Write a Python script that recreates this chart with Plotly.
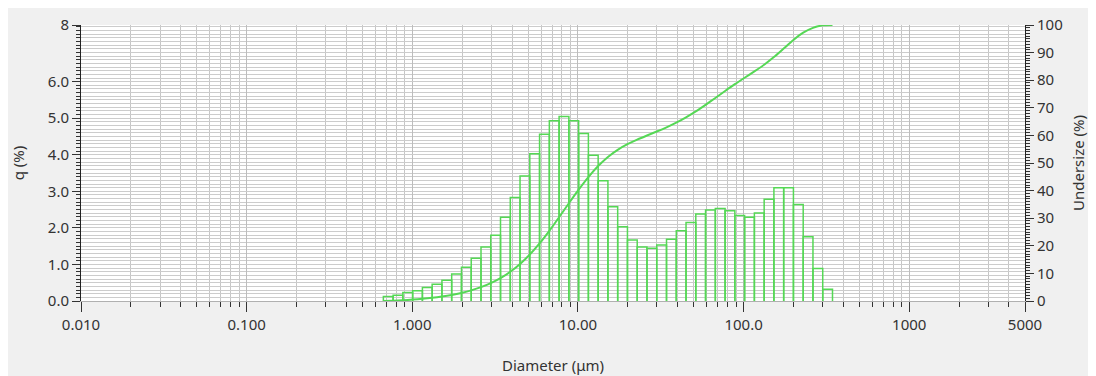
import math
import plotly.graph_objects as go

# ---- data ----
edges_um = [0.669, 0.766, 0.877, 1.005, 1.151, 1.318, 1.510, 1.729, 1.981, 2.269,
            2.599, 2.976, 3.409, 3.905, 4.472, 5.122, 5.867, 6.720, 7.697, 8.816,
            10.097, 11.565, 13.246, 15.172, 17.377, 19.904, 22.797, 26.111, 29.907, 34.255,
            39.234, 44.938, 51.471, 58.953, 67.523, 77.339, 88.583, 101.460, 116.210, 133.103,
            152.453, 174.616, 200.000, 229.075, 262.376, 300.518, 344.206]

q_pct = [0.12, 0.16, 0.23, 0.28, 0.37, 0.46, 0.57, 0.74, 0.92, 1.17,
         1.48, 1.80, 2.29, 2.83, 3.42, 4.03, 4.56, 4.93, 5.05, 4.93,
         4.58, 3.99, 3.29, 2.58, 2.03, 1.67, 1.48, 1.44, 1.53, 1.69,
         1.92, 2.15, 2.38, 2.49, 2.53, 2.47, 2.34, 2.29, 2.41, 2.78,
         3.10, 3.10, 2.64, 1.76, 0.89, 0.32]

undersize_pct = [0.0, 0.12, 0.28, 0.51, 0.79, 1.16, 1.62, 2.19, 2.93, 3.85,
                 5.02, 6.50, 8.30, 10.59, 13.42, 16.84, 20.87, 25.43, 30.36, 35.41,
                 40.34, 44.92, 48.91, 52.20, 54.78, 56.81, 58.48, 59.96, 61.40, 62.93,
                 64.62, 66.54, 68.69, 71.07, 73.56, 76.09, 78.56, 80.90, 83.19, 85.60,
                 88.38, 91.48, 94.58, 97.22, 98.98, 99.87, 100.0]

x_tick_vals = [0.01, 0.1, 1, 10, 100, 1000, 5000]
x_tick_text = ["0.010", "0.100", "1.000", "10.00", "100.0", "1000", "5000"]
q_tick_vals = [0, 1, 2, 3, 4, 5, 6, 7, 7.55]
q_tick_text = ["0.0", "1.0", "2.0", "3.0", "4.0", "5.0", "6.0", "", "8"]
u_tick_vals = [0, 10, 20, 30, 40, 50, 60, 70, 80, 90, 100]
u_tick_text = ["0", "10", "20", "30", "40", "50", "60", "70", "80", "90", "100"]

GREEN = "#55d855"
TXT = "#333333"

# ---- histogram outline built from edges and q ----
bx, by = [], []
for i, q in enumerate(q_pct):
    bx += [edges_um[i], edges_um[i], edges_um[i + 1], edges_um[i + 1], None]
    by += [0, q, q, 0, None]

x_minor = []
for dec in [0.01, 0.1, 1, 10, 100, 1000]:
    for m in range(2, 10):
        v = m * dec
        if v < 5000:
            x_minor.append(v)

fig = go.Figure()
fig.add_trace(go.Scatter(x=bx, y=by, mode="lines",
                         line=dict(color=GREEN, width=1.5), hoverinfo="skip"))
fig.add_trace(go.Scatter(x=edges_um, y=undersize_pct, yaxis="y2", mode="lines",
                         line=dict(color=GREEN, width=2, shape="spline", smoothing=0.6)))

fig.update_layout(
    width=1096, height=376,
    margin=dict(l=73, r=79, t=17, b=83),
    paper_bgcolor="#f0f0f0", plot_bgcolor="white",
    showlegend=False,
    font=dict(family="Noto Sans", size=15, color=TXT),
    xaxis=dict(
        type="log", range=[-2, math.log10(5000)],
        tickmode="array", tickvals=x_tick_vals, ticktext=x_tick_text,
        ticks="outside", ticklen=10, tickcolor=TXT, tickwidth=1,
        showgrid=True, gridcolor="#bdbdbd", gridwidth=1,
        showline=True, linecolor="#b0b0b0", zeroline=False,
        minor=dict(tickvals=x_minor, ticks="outside", ticklen=5, tickcolor=TXT,
                   showgrid=True, gridcolor="#c6c6c6", gridwidth=1),
        title=dict(text="Diameter (μm)", standoff=27, font=dict(size=15)),
        automargin=False,
    ),
    yaxis=dict(
        range=[0, 7.55],
        tickmode="array", tickvals=q_tick_vals, ticktext=q_tick_text,
        ticks="outside", ticklen=8, tickcolor=TXT,
        showgrid=True, gridcolor="#cccccc",
        showline=True, linecolor="#222222", zeroline=False,
        minor=dict(tickvals=[i / 10 for i in range(76)], ticks="outside", ticklen=4,
                   tickcolor=TXT, showgrid=True, gridcolor="#cccccc"),
        title=dict(text="q (%)", standoff=19, font=dict(size=15)),
        automargin=False,
    ),
    yaxis2=dict(
        overlaying="y", side="right", range=[0, 100],
        tickmode="array", tickvals=u_tick_vals, ticktext=u_tick_text,
        ticks="outside", ticklen=8, tickcolor=TXT,
        showgrid=False, showline=True, linecolor="#222222", zeroline=False,
        minor=dict(tickvals=list(range(101)), ticks="outside", ticklen=4,
                   tickcolor=TXT, showgrid=False),
        title=dict(text="Undersize (%)", standoff=11, font=dict(size=15)),
        automargin=False,
    ),
)

fig.write_html("out.html")
